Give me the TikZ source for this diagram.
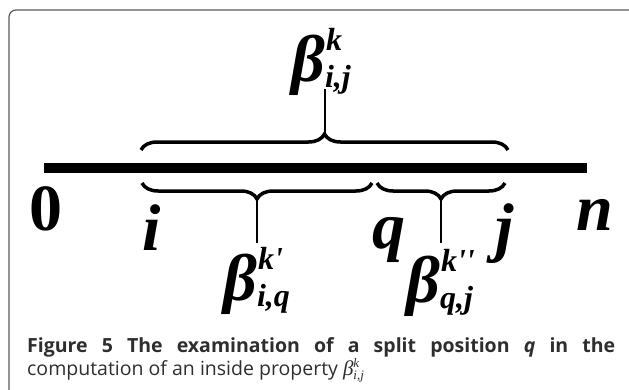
\documentclass[tikz,border=0pt]{standalone}
\usepackage{fontspec}
\setmainfont{Open Sans}
\newfontfamily\lblfont{Liberation Serif}
\usetikzlibrary{decorations.pathreplacing}
\definecolor{marco}{HTML}{5A5A5A}
\definecolor{pie}{HTML}{2E2E2E}
% beta con indices (grande y de pie de figura)
\newcommand{\betaet}[2]{β\rlap{\kern1pt\raisebox{31pt}{\fontsize{32}{32}\selectfont#1}}%
  \raisebox{-6pt}{\fontsize{32}{32}\selectfont#2}}
\newcommand{\betapie}[2]{β\rlap{\raisebox{8pt}{\fontsize{13}{13}\selectfont#1}}%
  \raisebox{-4pt}{\fontsize{13}{13}\selectfont#2}}
\tikzset{
  etiqueta/.style={font=\lblfont\bfseries\itshape\fontsize{66}{66}\selectfont, inner sep=0pt},
  llave/.style={decorate, decoration={brace, amplitude=16pt}, line width=3.5pt},
  guia/.style={line width=1.3pt},
  leyenda/.style={anchor=base west, inner sep=0pt, text=pie, font=\fontsize{19.5}{22}\selectfont}
}
\begin{document}
\begin{tikzpicture}[x=1pt, y=1pt]
  \useasboundingbox (0,0) rectangle (629,389);
  \draw[marco, line width=1.2pt, rounded corners=7pt] (9,379) rectangle (640,-10);
  % barra de posiciones
  \coordinate (ini) at (44,221);
  \coordinate (fin) at (587,221);
  \draw[line width=10pt] (ini) -- (fin);
  % llaves
  \draw[llave] (141,239) -- (508,239);
  \draw[llave] (372,206) -- (142,206);
  \draw[llave] (505,206) -- (377,206);
  \coordinate (pij) at (325,256);
  \coordinate (eij) at (325,300);
  \coordinate (piq) at (257,189);
  \coordinate (eiq) at (257,146);
  \coordinate (pqj) at (441,189);
  \coordinate (eqj) at (441,146);
  \draw[guia] (pij) -- (eij);
  \draw[guia] (piq) -- (eiq);
  \draw[guia] (pqj) -- (eqj);
  % etiquetas
  \node[etiqueta, anchor=base west] (bij) at (291,307) {\betaet{k}{i,j}};
  \node[etiqueta, anchor=base west] (biq) at (223,89) {\betaet{k\textquotesingle}{i,q}};
  \node[etiqueta, anchor=base west] (bqj) at (406,87) {\betaet{k\textquotesingle\textquotesingle}{q,j}};
  \node[etiqueta, font=\lblfont\bfseries\fontsize{66}{66}\selectfont, anchor=base] (cero) at (45.5,159) {0};
  \node[etiqueta, anchor=base] (i) at (152,139) {i};
  \node[etiqueta, anchor=base] (q) at (389,141) {q};
  \node[etiqueta, anchor=base] (j) at (505,140) {j};
  \node[etiqueta, anchor=base] (n) at (595,159) {n};
  % pie de figura
  \node[leyenda] (pie1) at (27,37)
    {\makebox[588pt][s]{\bfseries Figure 5 The examination of a split position \textit{q} in the}};
  \node[leyenda] (pie2) at (27,14)
    {computation of an inside property {\lblfont\itshape\fontsize{21}{21}\selectfont\betapie{k}{i,j}}};
\end{tikzpicture}
\end{document}
